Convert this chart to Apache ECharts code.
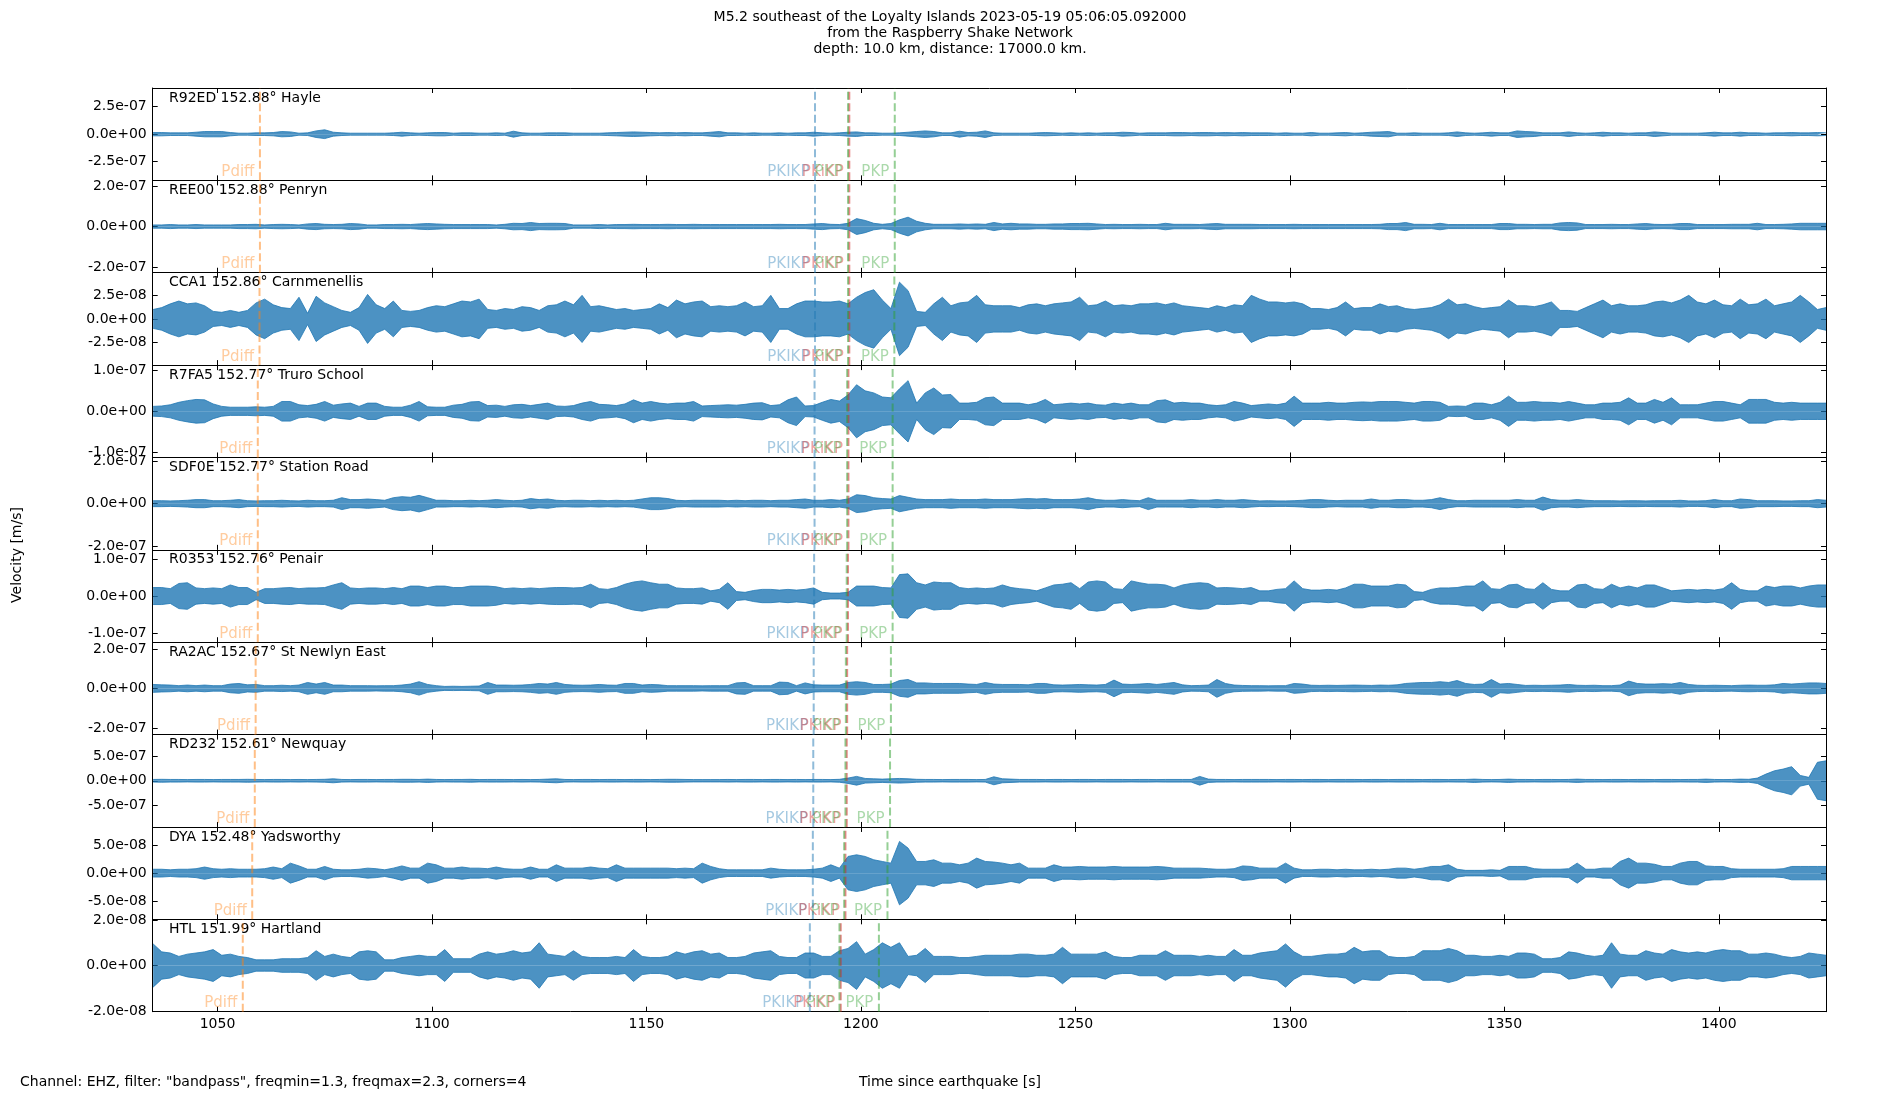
<!DOCTYPE html>
<html lang="en">
<head>
  <meta charset="UTF-8">
  <title>M5.2 southeast of the Loyalty Islands - Raspberry Shake section</title>
  <style>
    * {
      box-sizing: border-box;
      padding: 0;
      margin: 0;
    }
    html, body, #main {
      width: 100%;
      height: 100%;
      background: #fff;
    }
    #err {
      position: absolute; left: 300px; top: 200px; font: 14px monospace; color: #c00; white-space: pre;
    }
  </style>
  <script src="https://cdn.jsdelivr.net/npm/echarts@6.0.0/dist/echarts.min.js"></script>
</head>
<body>
  <div id="main"></div>
  <div id="err"></div>
  <script>
    // station labels, top to bottom
    var stations = [
      'R92ED 152.88° Hayle', 'REE00 152.88° Penryn', 'CCA1 152.86° Carnmenellis',
      'R7FA5 152.77° Truro School', 'SDF0E 152.77° Station Road', 'R0353 152.76° Penair',
      'RA2AC 152.67° St Newlyn East', 'RD232 152.61° Newquay', 'DYA 152.48° Yadsworthy',
      'HTL 151.99° Hartland'
    ];
    // y half range of each panel (nm/s) and the tick step shown
    var yRange = [420, 227, 49, 113, 217, 125, 234, 950, 83, 20.3];
    var yStep = [250, 200, 25, 100, 200, 100, 200, 500, 50, 20];
    var xTicks = [1050, 1100, 1150, 1200, 1250, 1300, 1350, 1400];
    var xMin = 1034.9, xMax = 1425;

    // phase arrivals (s after origin), one per station
    var tPdiff = [1059.9, 1059.9, 1059.8, 1059.4, 1059.4, 1059.4, 1058.9, 1058.7, 1058.1, 1055.9];
    var tPKIKP = [1189.3, 1189.3, 1189.3, 1189.2, 1189.2, 1189.1, 1189.0, 1188.9, 1188.8, 1188.1];
    var tPKiKP = [1197.3, 1197.3, 1197.3, 1197.1, 1197.1, 1197.0, 1196.8, 1196.7, 1196.4, 1195.3];
    var tPKP1 = [1197.0, 1197.0, 1197.0, 1196.8, 1196.8, 1196.7, 1196.5, 1196.4, 1196.1, 1195.0];
    var tPKP2 = [1207.9, 1207.9, 1207.8, 1207.4, 1207.4, 1207.4, 1207.0, 1206.8, 1206.2, 1204.2];

    // trace envelopes, nm/s, one value every 2 s starting at 1035 s
    var t0 = 1035, dt = 2;
    var envR92ED = [
      15,15,12,12,12,18,24,24,24,15, 9,9,12,12,15,24,21,9,12,30, 40,18,12,9,9,9,9,9,12,18,
      12,9,12,15,15,9,12,12,9,9, 12,9,27,12,9,9,12,12,12,9, 9,9,9,12,15,18,21,18,15,12,
      15,12,15,12,12,
      18,24,12,12,9,12,9,9,12,9, 12,12,18,12,9,12,18,21,12,12, 9,9,12,18,24,30,24,12,12,27,
      15,18,30,12,9,9,9,9,12,15, 12,9,12,9,12,9,12,12,18,15, 9,12,12,12,15,15,12,15,15,12,
      15,12,15,12,
      12,12,9,12,9,9,15,9,9,12, 15,9,12,18,21,24,9,9,12,9, 9,9,12,21,12,9,12,18,12,12,
      30,24,21,12,12,12,21,12,9,12, 18,12,12,9,12,12,21,15,9,9, 9,9,12,18,12,12,18,12,12,9,
      12,12,15,12,12,15,12
    ];
    var envREE00 = [
      8,8,10,8,8,10,8,8,8,8, 10,10,11,8,10,11,10,8,13,15, 11,10,11,15,13,8,8,10,10,11,
      10,13,15,13,11,10,10,10,10,10, 8,11,16,15,20,15,16,16,15,8, 8,8,10,8,10,10,11,10,10,10,
      11,10,10,11,10,
      10,10,10,10,10,10,10,10,11,10, 10,10,13,15,11,10,16,39,30,16, 11,15,33,46,26,16,11,11,11,13,
      11,13,11,20,13,16,13,13,11,11, 13,13,15,15,16,13,10,11,10,10, 11,10,10,16,11,11,11,10,13,15,
      11,11,11,11,
      10,10,10,10,11,10,10,10,10,10, 10,10,10,10,11,15,15,20,11,11, 10,16,10,10,10,10,10,10,15,15,
      11,11,10,11,11,18,20,18,10,10, 10,11,10,10,13,15,11,10,11,15, 15,10,10,10,10,11,11,11,16,10,
      10,11,13,16,16,16,16
    ];
    var envCCA1 = [
      10,12,16,19,16,17,14,8,7,9, 7,9,17,21,15,12,11,23,6,24, 17,13,9,7,12,26,15,11,19,9,
      8,9,12,14,13,16,19,18,21,10, 9,11,10,13,12,9,14,15,19,15, 25,13,14,12,10,11,9,10,11,16,
      12,20,16,18,19,
      13,14,13,14,18,13,14,25,11,11, 16,19,19,18,18,19,16,23,28,31, 20,11,39,30,8,7,16,23,14,17,
      18,25,15,14,14,14,12,15,16,14, 16,17,18,23,14,15,19,14,15,14, 16,16,17,15,17,14,13,12,11,14,
      12,15,14,25,
      21,18,18,17,18,16,11,11,10,12, 18,11,12,12,16,13,14,11,10,11, 12,15,21,15,16,13,11,12,13,20,
      14,14,13,15,18,9,9,8,12,16, 20,14,16,14,14,15,18,19,17,20, 25,18,16,20,15,14,21,15,16,21,
      14,16,18,25,18,10,12
    ];
    var envR7FA5 = [
      12,13,16,22,26,29,28,18,12,10, 10,10,11,10,12,24,24,16,14,17, 24,15,18,20,12,20,20,12,10,10,
      15,24,11,10,10,15,17,23,24,14, 15,12,16,17,14,17,20,13,12,14, 20,24,17,16,14,18,28,20,24,20,
      18,20,20,24,13,
      14,15,16,15,17,20,21,14,16,28, 35,13,14,22,29,25,40,65,50,45, 35,33,55,75,20,45,57,40,41,20,
      20,22,33,35,20,20,20,16,20,29, 16,18,20,18,20,16,15,20,17,20, 16,16,26,28,20,22,20,20,16,14,
      16,24,20,14,
      16,18,16,20,37,20,20,20,22,20, 20,22,23,22,24,24,24,22,20,24, 24,22,12,13,12,20,20,16,22,37,
      22,22,24,22,22,20,24,20,16,16, 20,20,22,33,20,20,29,22,33,16, 16,16,20,24,24,20,16,29,29,29,
      22,20,22,20,20,20,20
    ];
    var envSDF0E = [
      14,14,13,14,16,19,19,14,14,16, 19,14,13,14,14,16,14,13,16,14, 14,16,28,19,19,22,19,16,28,33,
      30,39,28,16,16,14,14,16,14,16, 19,16,14,16,24,19,22,16,14,16, 16,14,16,14,16,14,16,22,28,28,
      24,16,14,16,16,
      16,16,14,16,14,16,16,14,16,16, 19,22,16,16,19,16,22,42,38,28, 24,22,38,30,22,19,19,19,22,19,
      19,19,22,19,19,19,22,24,22,24, 19,19,19,22,28,19,16,16,19,16, 14,28,16,16,16,16,19,16,16,19,
      16,16,19,16,
      13,14,13,13,14,16,19,19,16,14, 16,16,16,22,16,16,19,19,16,16, 19,28,19,14,14,16,16,16,16,16,
      19,16,16,31,19,16,16,19,16,14, 14,14,13,14,14,13,14,14,14,16, 13,13,14,19,14,14,22,19,14,14,
      14,13,13,14,14,19,16
    ];
    var envR0353 = [
      23,23,20,34,36,22,20,22,20,30, 23,23,10,20,20,22,23,20,22,22, 23,30,36,22,20,22,22,20,23,20,
      27,27,23,27,27,23,23,27,27,27, 25,20,22,20,22,20,22,23,23,22, 23,32,20,18,23,32,38,41,36,32,
      32,22,20,20,22,
      14,18,36,12,10,15,18,18,16,18, 16,18,22,10,8,8,10,27,27,27, 23,22,58,60,36,30,38,36,36,23,
      20,22,20,22,30,23,20,18,14,22, 30,32,36,20,38,41,38,20,18,41, 36,32,32,30,22,30,34,36,34,22,
      23,22,20,23,
      14,14,18,20,41,20,16,16,18,16, 22,32,32,27,27,27,32,30,12,10, 18,22,22,23,27,27,41,20,18,30,
      32,20,18,36,18,14,14,30,32,20, 18,32,22,27,22,30,30,22,14,16, 18,16,18,16,20,36,18,14,14,27,
      23,27,27,22,27,30,30
    ];
    var envRA2AC = [
      20,18,17,14,17,14,17,14,14,22, 25,18,20,14,14,16,14,17,30,22, 30,17,17,14,14,14,13,14,14,17,
      22,34,20,14,10,11,10,11,12,30, 17,17,16,17,20,25,22,30,20,17, 16,17,20,17,16,25,25,17,20,18,
      14,14,14,14,13,
      14,14,14,28,30,14,14,14,32,30, 14,28,18,17,17,17,30,34,30,20, 20,22,40,45,28,28,25,25,25,25,
      22,20,30,22,20,20,20,18,25,25, 18,17,18,20,18,17,20,42,22,20, 22,25,20,25,30,18,14,15,17,45,
      25,17,15,14,
      14,13,14,14,25,22,16,15,16,15, 16,17,16,15,17,16,18,25,28,30, 30,34,30,40,25,20,22,45,22,25,
      20,15,16,15,16,17,20,16,15,16, 14,14,17,37,25,22,22,24,22,30, 20,16,15,16,15,14,16,17,16,16,
      18,25,22,25,28,28,25
    ];
    var envRD232 = [
      27,30,27,27,24,27,27,24,27,27, 27,30,27,24,27,27,24,27,24,27, 30,41,27,24,27,27,24,27,27,30,
      30,27,34,27,24,27,27,30,24,27, 27,27,24,27,24,27,34,41,27,24, 27,27,24,27,27,24,27,27,24,27,
      30,30,27,24,24,
      24,24,27,24,27,27,24,27,27,24, 27,24,27,27,24,30,55,90,48,41, 34,41,48,41,30,27,27,24,27,27,
      27,24,27,82,41,34,27,27,27,24, 27,27,24,27,27,24,27,27,27,24, 27,27,24,27,27,27,27,90,34,27,
      27,24,27,27,
      27,27,24,27,27,24,27,27,24,27, 27,27,24,27,27,24,27,27,27,24, 27,27,24,27,27,34,27,24,27,34,
      27,27,24,27,27,24,27,34,27,27, 24,27,27,24,27,27,24,27,27,24, 27,27,34,27,24,27,34,30,55,137,
      206,240,290,110,70,380,410
    ];
    var envDYA = [
      7,7,6,7,7,8,11,8,7,8, 7,7,7,8,11,8,18,13,7,7, 12,7,6,6,7,9,8,6,9,13,
      9,9,18,15,9,9,11,9,9,8, 11,8,7,7,11,7,7,15,9,9, 9,11,9,8,15,9,9,9,9,9,
      9,8,9,8,18,
      12,8,6,6,6,6,6,9,7,6, 6,6,7,9,15,9,30,33,30,24, 21,18,57,45,21,21,24,18,18,15,
      18,27,21,20,18,15,18,9,9,9, 15,11,11,12,11,11,11,12,11,11, 11,11,12,11,9,9,9,9,8,7,
      7,8,13,12,
      9,9,9,18,9,6,6,7,7,6, 7,6,6,7,6,7,9,9,7,9, 12,12,15,7,5,5,5,6,5,12,
      12,12,8,7,7,7,8,18,7,7, 9,9,21,27,18,18,16,12,12,18, 21,21,13,12,12,8,7,7,7,7,
      7,8,12,12,12,12,12
    ];
    var envHTL = [
      9.5,6,5.5,4,5,5.5,6,7,4.5,5, 4,3.5,2.5,2.5,2.5,3,3,3,3.5,6.5, 4,5,4,3.5,6,6.5,6,2.5,2.5,3.5,
      4,4.5,4,4,7,3,3,3,5,6, 5,5.5,6.5,5.5,6,10,5,4.5,4,6.5, 4,3.5,3.5,3.5,4,3.5,7,4,3.5,3.5,
      4,6,5,6,6.5,
      5,5.5,3.5,3.5,4,5.5,6,6.5,4,3.5, 3.5,5.5,5.5,4,4,6.5,7.5,10.5,5,7, 10,8,10,4,4.5,7.5,4,4,4,3.5,
      3.5,4,4.5,4.5,4.5,4.5,5,5,4.5,4.5, 5,8,5,5,5,5,6,4,3.5,3.5, 4.5,4.5,4.5,6.5,4.5,4.5,4.5,4,4.5,4,
      4,7,4.5,4.5,
      5.5,6,6.5,9.5,6,4,4,4.5,5,5, 5.5,8,6,6.5,6.5,4,3.5,3.5,4,6.5, 6.5,6.5,7.5,6.5,4.5,4.5,4,4,4.5,4,
      5.5,5.5,5,3,3,3.5,6,5.5,4.5,4, 4.5,10,5,4.5,4.5,6.5,5.5,5,7,6, 5.5,6,5.5,6.5,7,6.5,6.5,5,5,5.5,
      5,4,3.5,4,5.5,5,4.5
    ];
    var envelopes = [envR92ED, envREE00, envCCA1, envR7FA5, envSDF0E, envR0353, envRA2AC, envRD232, envDYA, envHTL];

    var phases = [
      { name: 'Pdiff', t: tPdiff, color: 'rgba(255,127,14,0.5)' },
      { name: 'PKIKP', t: tPKIKP, color: 'rgba(31,119,180,0.5)' },
      { name: 'PKiKP', t: tPKiKP, color: 'rgba(214,39,40,0.55)' },
      { name: 'PKP', t: tPKP1, color: 'rgba(44,160,44,0.5)' },
      { name: 'PKP', t: tPKP2, color: 'rgba(44,160,44,0.5)' }
    ];

    var FONT = 'DejaVu Sans';
    var LEFT = 152.7, RIGHT = 74, TOP0 = 88, PH = 92.37;
    var n = stations.length;

    // nm/s value -> matplotlib style "2.5e-07" in m/s
    function sci(v) {
      if (Math.abs(v) < 1e-9) return '0.0e+00';
      var parts = (v * 1e-9).toExponential(1).split('e');
      var ex = parts[1];
      var digits = ex.slice(1);
      if (digits.length < 2) digits = '0' + digits;
      return parts[0] + 'e' + ex.charAt(0) + digits;
    }

    function blackLine() {
      return { show: true, onZero: false, lineStyle: { color: '#000', width: 1 } };
    }
    function tickStyle(vals) {
      return { show: true, inside: true, length: 5, customValues: vals.slice(), lineStyle: { color: '#000', width: 1 } };
    }
    function panelTop(i) {
      return TOP0 + i * PH;
    }

    var grids = [], xAxes = [], yAxes = [], series = [], graphics = [];

    for (var i = 0; i < n; i++) {
      var yt = [-yStep[i], 0, yStep[i]];
      grids.push({ left: LEFT, right: RIGHT, top: panelTop(i), height: PH });

      xAxes.push({
        type: 'value', gridIndex: i, min: xMin, max: xMax, position: 'bottom',
        axisLine: blackLine(), splitLine: { show: false },
        axisTick: tickStyle(xTicks),
        axisLabel: {
          show: i === n - 1, customValues: xTicks.slice(), color: '#000', fontSize: 14, fontFamily: FONT, margin: 6,
          formatter: function (v) { return String(v); }
        }
      });
      yAxes.push({
        type: 'value', gridIndex: i, min: -yRange[i], max: yRange[i], position: 'left',
        axisLine: blackLine(), splitLine: { show: false },
        axisTick: tickStyle(yt),
        axisLabel: { show: true, customValues: yt.slice(), formatter: sci, color: '#000', fontSize: 14, fontFamily: FONT, margin: 6 }
      });
    }
    for (var j = 0; j < n; j++) {
      xAxes.push({
        type: 'value', gridIndex: j, min: xMin, max: xMax, position: 'top',
        axisLine: blackLine(), splitLine: { show: false },
        axisTick: tickStyle(xTicks), axisLabel: { show: false }
      });
      yAxes.push({
        type: 'value', gridIndex: j, min: -yRange[j], max: yRange[j], position: 'right',
        axisLine: blackLine(), splitLine: { show: false },
        axisTick: tickStyle([-yStep[j], 0, yStep[j]]), axisLabel: { show: false }
      });
    }

    for (var p = 0; p < n; p++) {
      var env = envelopes[p];
      var upper = [], lower = [];
      for (var k = 0; k < env.length; k++) {
        upper.push([t0 + k * dt, env[k]]);
        lower.push([t0 + k * dt, -env[k]]);
      }
      // trace envelope drawn as a band above and below zero
      series.push({
        type: 'line', xAxisIndex: p, yAxisIndex: p, symbol: 'none', silent: true,
        data: upper, lineStyle: { color: '#1f77b4', width: 0.8 },
        areaStyle: { color: '#1f77b4', opacity: 0.8 }
      });
      series.push({
        type: 'line', xAxisIndex: p, yAxisIndex: p, symbol: 'none', silent: true,
        data: lower, lineStyle: { color: '#1f77b4', width: 0.8 },
        areaStyle: { color: '#1f77b4', opacity: 0.8 }
      });

      // dashed arrival lines, one line series each
      for (var q = 0; q < phases.length; q++) {
        var ph = phases[q];
        series.push({
          type: 'line', xAxisIndex: p, yAxisIndex: p, symbol: 'none', silent: true,
          data: [[ph.t[p], -yRange[p]], [ph.t[p], yRange[p]]],
          lineStyle: { color: ph.color, type: [8, 3.5], width: 2 }
        });
      }

      // phase names just left of their lines, near the panel bottom
      var labs = [];
      for (var r = 0; r < phases.length; r++) {
        labs.push({
          value: [phases[r].t[p], -0.82 * yRange[p]],
          label: { formatter: phases[r].name, color: phases[r].color, fontSize: 15, fontFamily: FONT }
        });
      }
      series.push({
        type: 'scatter', xAxisIndex: p, yAxisIndex: p, symbolSize: 1, silent: true,
        itemStyle: { color: 'rgba(0,0,0,0)' },
        label: { show: true, position: 'left', distance: 5, fontSize: 15, fontFamily: FONT },
        data: labs
      });

      graphics.push({
        type: 'text', x: 169, y: panelTop(p) + 10, silent: true,
        style: { text: stations[p], font: '14px "' + FONT + '"', fill: '#000', textAlign: 'left', textVerticalAlign: 'middle' }
      });
    }

    graphics.push({
      type: 'text', x: 950, y: 9.5, silent: true,
      style: {
        text: 'M5.2 southeast of the Loyalty Islands 2023-05-19 05:06:05.092000\nfrom the Raspberry Shake Network\ndepth: 10.0 km, distance: 17000.0 km.',
        font: '14px "' + FONT + '"', lineHeight: 16, fill: '#000', textAlign: 'center', textVerticalAlign: 'top'
      }
    });
    graphics.push({
      type: 'text', x: 950, y: 1082, silent: true,
      style: { text: 'Time since earthquake [s]', font: '14px "' + FONT + '"', fill: '#000', textAlign: 'center', textVerticalAlign: 'middle' }
    });
    graphics.push({
      type: 'text', x: 20, y: 1082, silent: true,
      style: { text: 'Channel: EHZ, filter: "bandpass", freqmin=1.3, freqmax=2.3, corners=4', font: '14px "' + FONT + '"', fill: '#000', textAlign: 'left', textVerticalAlign: 'middle' }
    });
    graphics.push({
      type: 'text', x: 17, y: 555, rotation: Math.PI / 2, silent: true,
      style: { text: 'Velocity [m/s]', font: '14px "' + FONT + '"', fill: '#000', textAlign: 'center', textVerticalAlign: 'middle' }
    });

    try {
      var myChart = echarts.init(document.getElementById('main'));
      myChart.setOption({
        animation: false,
        backgroundColor: '#fff',
        textStyle: { fontFamily: FONT },
        grid: grids,
        xAxis: xAxes,
        yAxis: yAxes,
        series: series,
        graphic: graphics
      });
      window.onresize = function () { myChart.resize(); };
    } catch (e) {
      document.getElementById('err').textContent = String(e && e.stack ? e.stack : e).slice(0, 1500);
    }
  </script>
</body>
</html>
